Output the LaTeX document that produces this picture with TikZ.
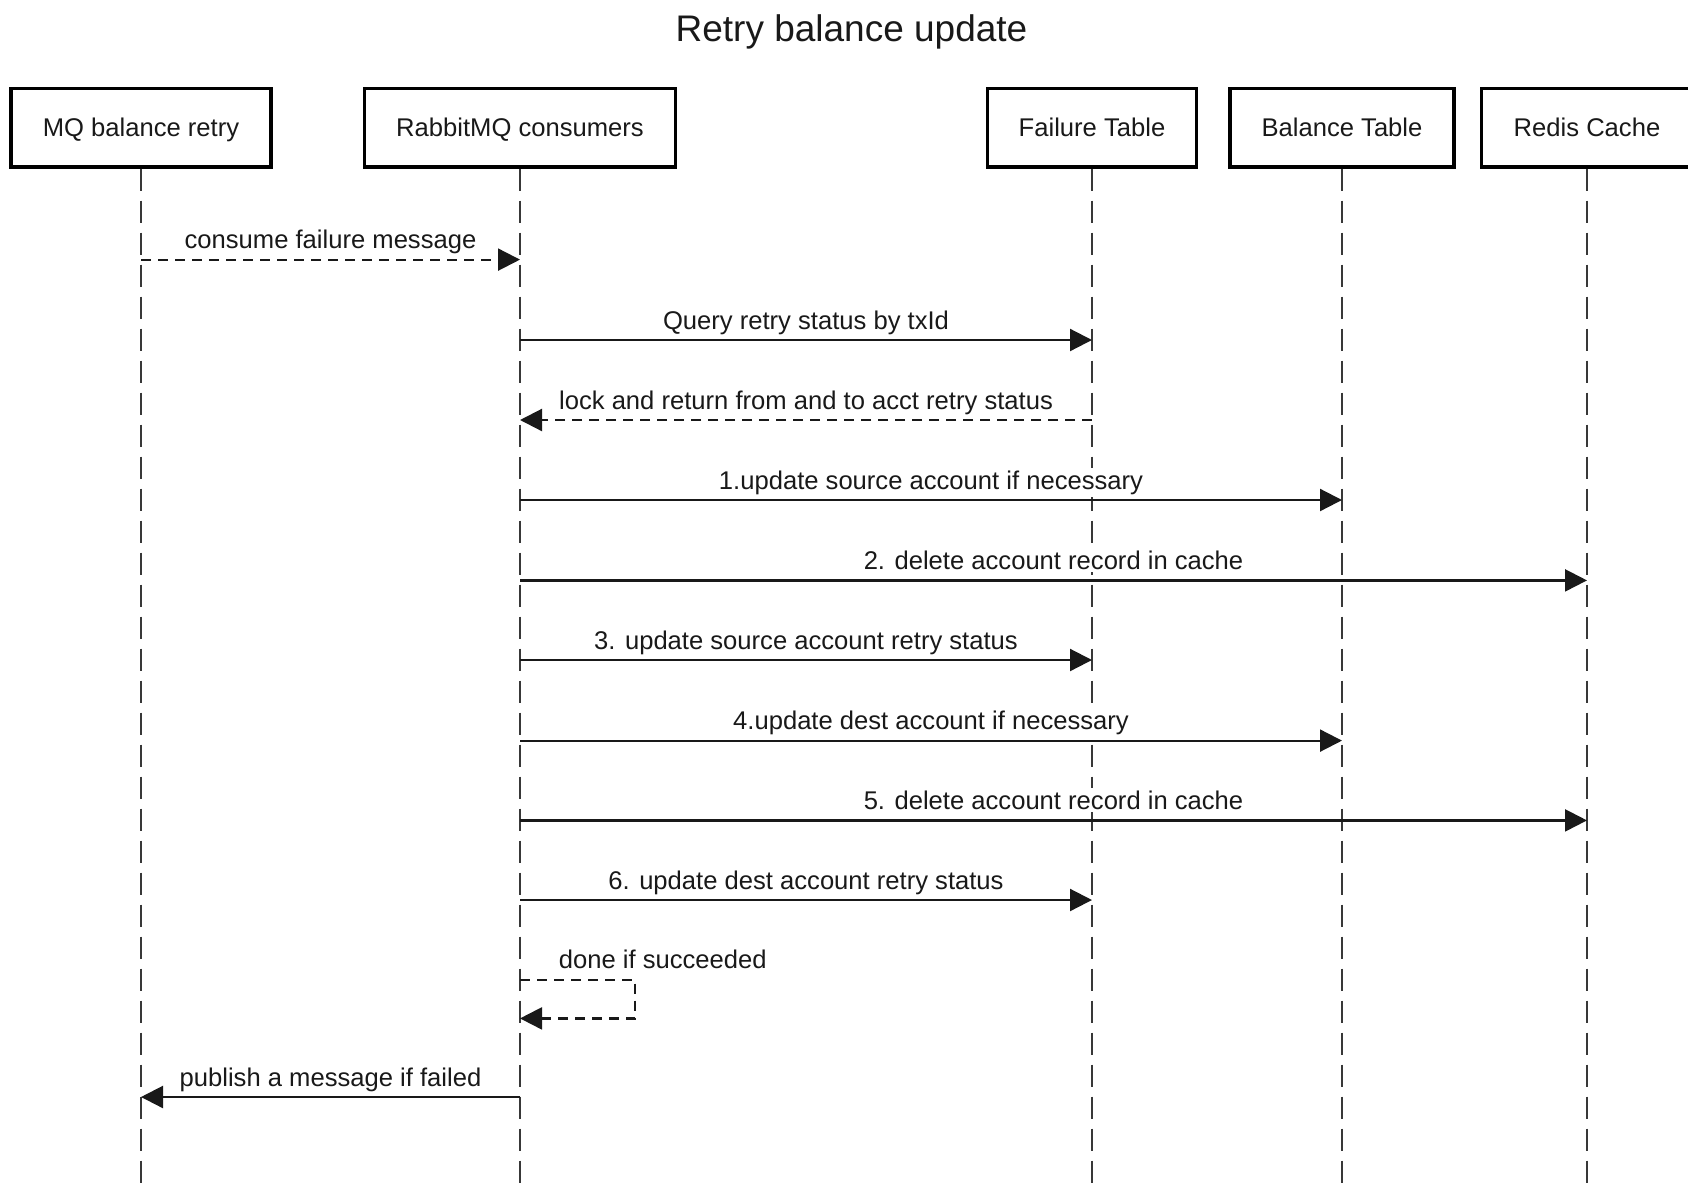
\documentclass[tikz,border=0pt]{standalone}
\usepackage{fontspec}
\setmainfont{Liberation Sans}
\usetikzlibrary{arrows.meta}
\begin{document}
\begin{tikzpicture}[x=1pt,y=-1pt,
  txt/.style={font=\fontsize{25.6}{30}\selectfont, text=black!90},
  actor/.style={txt, draw=black, line width=3.4pt, minimum height=78.6pt, inner sep=0pt, text height=18.3pt, text depth=0pt},
  life/.style={draw=black!78, line width=2.4pt, dash pattern=on 22pt off 10pt},
  msg/.style={draw=black!90, line width=2.2pt, -{Triangle[length=22pt,width=22pt]}},
  reply/.style={msg, dash pattern=on 10pt off 7pt},
  lbl/.style={txt, anchor=base, fill=white, inner xsep=1pt, inner ysep=2.5pt, yshift=11pt},
]
\useasboundingbox (0,0) rectangle (1688,1184);

\node[font=\fontsize{37}{44}\selectfont, anchor=base, inner sep=0pt, text=black!90] (title) at (851.5,41) {Retry balance update};

\node[actor, minimum width=260pt] (mq)    at (141,127.6)  {MQ balance retry};
\node[actor, minimum width=311pt] (rc)    at (520,127.6)  {RabbitMQ consumers};
\node[actor, minimum width=209pt] (ft)    at (1092,127.6) {Failure Table};
\node[actor, minimum width=224pt] (bt)    at (1342,127.6) {Balance Table};
\node[actor, minimum width=211pt] (redis) at (1587,127.6) {Redis Cache};

\foreach \n in {mq,rc,ft,bt,redis}{
  \coordinate (\n-end) at (\n.south |- 0,1190);
  \draw[life] (\n.south) -- (\n-end);
}

\draw[reply] (mq |- 0,259.6) -- node[lbl, midway] {consume failure message} (rc |- 0,259.6);
\draw[msg] (rc |- 0,340) -- node[lbl, midway] {Query retry status by txId} (ft |- 0,340);
\draw[reply] (ft |- 0,420) -- node[lbl, midway] {lock and return from and to acct retry status} (rc |- 0,420);
\draw[msg] (rc |- 0,500) -- node[lbl, midway] {1.update source account if necessary} (bt |- 0,500);
\draw[msg] (rc |- 0,580.4) -- node[lbl, midway] {2. delete account record in cache} (redis |- 0,580.4);
\draw[msg] (rc |- 0,660) -- node[lbl, midway] {3. update source account retry status} (ft |- 0,660);
\draw[msg] (rc |- 0,740.6) -- node[lbl, midway] {4.update dest account if necessary} (bt |- 0,740.6);
\draw[msg] (rc |- 0,820.4) -- node[lbl, midway] {5. delete account record in cache} (redis |- 0,820.4);
\draw[msg] (rc |- 0,900) -- node[lbl, midway] {6. update dest account retry status} (ft |- 0,900);

\coordinate (selfA) at (635,979.6);
\coordinate (selfB) at (635,1018.4);
\draw[reply] (rc |- selfA) -- (selfA) -- (selfB) -- (rc |- selfB);
\node[txt, anchor=base west, inner sep=0pt] (selflbl) at (558.7,968.6) {done if succeeded};

\draw[msg] (rc |- 0,1097) -- node[lbl, midway] {publish a message if failed} (mq |- 0,1097);
\end{tikzpicture}
\end{document}
